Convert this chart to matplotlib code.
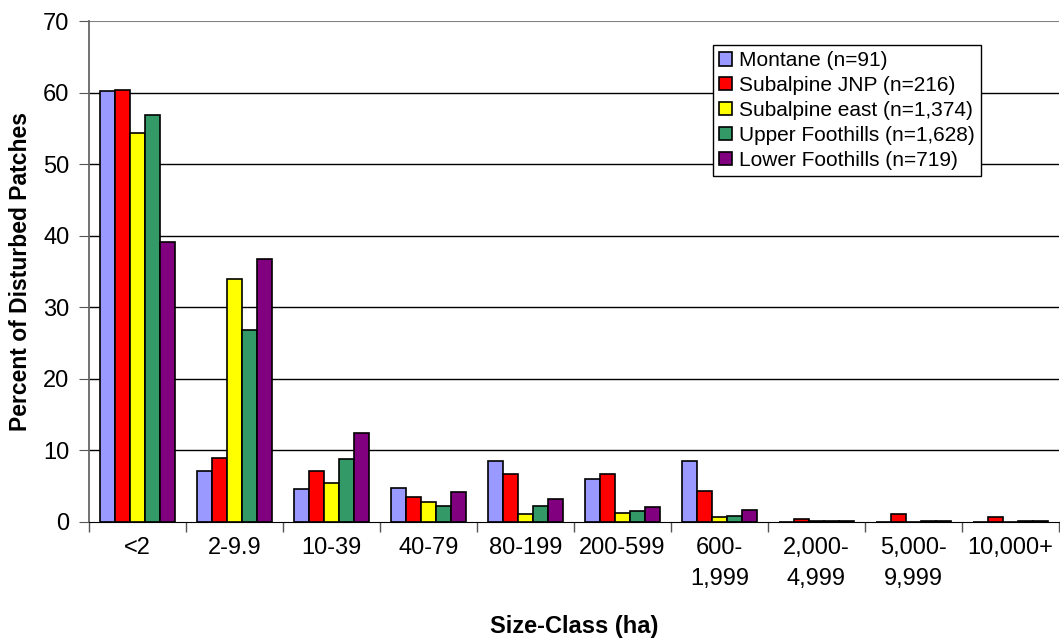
import numpy as np
import matplotlib.pyplot as plt

plt.rcParams['font.family'] = ['Liberation Sans', 'DejaVu Sans']

# ------------------------------- DATA ----------------------------------------
size_classes = ['<2', '2-9.9', '10-39', '40-79', '80-199', '200-599',
                '600-\n1,999', '2,000-\n4,999', '5,000-\n9,999', '10,000+']
series_names = ['Montane (n=91)', 'Subalpine JNP (n=216)', 'Subalpine east (n=1,374)',
                'Upper Foothills (n=1,628)', 'Lower Foothills (n=719)']
montane = [60.2, 7.1, 4.6, 4.7, 8.5, 6.0, 8.5, 0.0, 0.0, 0.0]
subalpine_jnp = [60.4, 8.9, 7.1, 3.5, 6.7, 6.7, 4.3, 0.35, 1.1, 0.7]
subalpine_east = [54.3, 33.9, 5.4, 2.8, 1.1, 1.2, 0.7, 0.1, 0.05, 0.05]
upper_foothills = [56.8, 26.8, 8.8, 2.3, 2.2, 1.5, 0.9, 0.2, 0.15, 0.15]
lower_foothills = [39.1, 36.8, 12.4, 4.2, 3.2, 2.1, 1.7, 0.15, 0.2, 0.1]
colors = ['#9999FF', '#FF0000', '#FFFF00', '#339966', '#800080']

# ----------------------------- PLOTTING --------------------------------------
fig = plt.figure(figsize=(10.6, 6.39), dpi=100)
ax = fig.add_axes([89 / 1060, 117 / 639, 1 - 89 / 1060 - 0.001, 501 / 639])

x = np.arange(len(size_classes))
width = 0.155
all_series = [montane, subalpine_jnp, subalpine_east, upper_foothills, lower_foothills]
for i, (vals, name, col) in enumerate(zip(all_series, series_names, colors)):
    ax.bar(x + (i - 2) * width, vals, width, color=col, edgecolor='black',
           linewidth=1.2, label=name, zorder=3)

ax.set_xlim(-0.5, len(size_classes) - 0.5)
ax.set_ylim(0, 70)
ax.set_yticks(range(0, 71, 10))
for yv in range(10, 70, 10):
    ax.axhline(yv, color='black', linewidth=1, zorder=1)
ax.axhline(70, color='#808080', linewidth=1.5, zorder=1)

ax.set_xticks(x)
ax.set_xticklabels(size_classes, fontsize=17, linespacing=1.5, va='top')
ax.tick_params(axis='x', which='major', length=0, pad=11)
ax.set_xticks(np.arange(-0.5, len(size_classes), 1), minor=True)
ax.tick_params(axis='x', which='minor', length=7, color='#555555', width=1)
ax.tick_params(axis='y', labelsize=17, length=7, color='#555555', pad=7)

for side in ['top', 'right']:
    ax.spines[side].set_visible(False)
ax.spines['left'].set_color('#666666')
ax.spines['left'].set_linewidth(1.3)
ax.spines['bottom'].set_color('black')
ax.spines['bottom'].set_zorder(4)

ax.set_ylabel('Percent of Disturbed Patches', fontsize=16.5, fontweight='bold', labelpad=8)
ax.set_xlabel('Size-Class (ha)', fontsize=17, fontweight='bold', labelpad=18)

leg = ax.legend(loc='upper left', bbox_to_anchor=(713 / 1060, 1 - 45 / 639),
                bbox_transform=fig.transFigure, fontsize=15, frameon=True, fancybox=False,
                edgecolor='black', framealpha=1, handlelength=0.6, handleheight=0.6,
                handletextpad=0.35, labelspacing=0.28, borderpad=0.3, borderaxespad=0)
leg.get_frame().set_linewidth(1)
leg.set_zorder(5)

fig.savefig('out.png', dpi=100)
